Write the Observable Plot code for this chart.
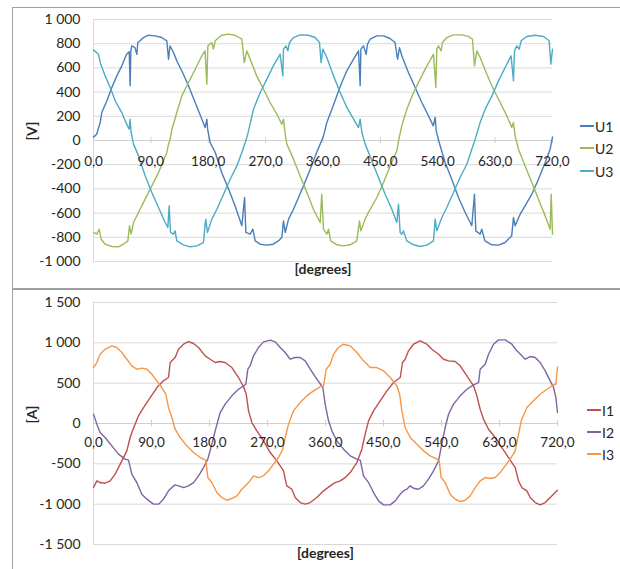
<!DOCTYPE html>
<html>
<head>
<meta charset="utf-8">
<script src="https://cdn.jsdelivr.net/npm/d3@7"></script>
<script src="https://cdn.jsdelivr.net/npm/@observablehq/plot@0.6"></script>
<style>
  body { margin: 0; background: #fff; width: 620px; height: 569px; overflow: hidden; position: relative; font-family: Lato, "Open Sans", sans-serif; color: #262626; }
  .panel { position: absolute; border: 1px solid #9f9f9f; border-right: none; box-sizing: border-box; }
  .plotwrap { position: absolute; left: 0; }
  .leg { position: absolute; font-size: 14px; display: flex; align-items: center; }
  .leg span.sw { display: inline-block; width: 14px; height: 2px; margin-right: 1px; }
</style>
</head>
<body>
<div class="panel" style="left:12px; top:7px; width:620px; height:282px;"></div>
<div class="panel" style="left:12px; top:289px; width:620px; height:300px; border-bottom:none;"></div>
<div id="top" class="plotwrap" style="top:0px;"></div>
<div id="bottom" class="plotwrap" style="top:289px;"></div>
<div id="legends"></div>
<script>
// ---- data (degrees, value) ----
const U1 = [[0,28],[5,52],[10.5,150],[13,231],[21,328],[28.8,438],[36.6,534],[44.4,617],[52,713],[56,733],[57.5,452],[58.6,741],[60,782],[65,768],[68,713],[69.5,810],[73,824],[78.4,851],[86,870],[96.7,865],[107,851],[115,824],[117.7,672],[120,782],[125.5,727],[130.7,658],[141,548],[149,452],[159.5,314],[170,176],[175,107],[177.8,176],[179,93],[183,-17],[191,-99],[201,-265],[212,-402],[222,-540],[232.7,-705],[237,-471],[239,-760],[245.8,-774],[250,-733],[253.6,-830],[261.5,-857],[272,-865],[282,-857],[290,-830],[295.4,-802],[298,-664],[300.7,-760],[306,-650],[313.7,-568],[321.6,-471],[329.4,-375],[340,-237],[350,-99],[358,0],[360.8,38],[366,149],[374,259],[381.7,369],[389.5,479],[397.4,576],[407.9,672],[415.7,741],[418.3,452],[419.4,755],[423.5,782],[427.7,713],[429.8,796],[434,837],[444.5,865],[455,865],[465,843],[473,810],[477,672],[480,768],[483.6,700],[494,562],[504.5,438],[515,314],[525.5,204],[533,121],[536,190],[537.5,80],[543.8,-44],[551.6,-182],[562,-320],[572.5,-471],[583,-595],[593.4,-705],[597.6,-444],[599.7,-747],[606.5,-774],[609,-733],[614,-830],[624.8,-862],[635.3,-865],[645.7,-843],[656,-788],[658.8,-636],[661.4,-705],[669.3,-609],[677,-540],[687.6,-444],[698,-320],[708.5,-182],[716.3,-72],[720,30]];
const U2 = [[0,-760],[5.2,-774],[8.9,-733],[12,-816],[18.3,-857],[28.8,-876],[39.2,-879],[47,-857],[53.9,-830],[56.5,-705],[59,-774],[62.8,-678],[70.6,-595],[81,-485],[91.5,-375],[102,-265],[109.8,-168],[115,-99],[117.7,-30],[120.3,11],[123,93],[130.7,231],[138.6,369],[149,479],[159.5,589],[170,700],[175,741],[177.8,465],[179.4,782],[185.6,810],[188,755],[190.9,824],[201,870],[212,879],[222,870],[232.7,837],[236.5,644],[240.5,741],[245.8,672],[256,534],[266.7,424],[277,314],[287.6,217],[295.4,135],[298,176],[300.7,52],[303.3,-30],[313.7,-154],[324,-292],[334.7,-430],[345,-568],[355.6,-678],[358,-444],[360.8,-733],[366,-774],[368.6,-733],[372,-830],[381.7,-862],[392,-871],[402.6,-862],[413,-830],[417.3,-664],[419.4,-747],[426,-650],[434,-568],[444.5,-471],[455,-347],[465.4,-210],[475.8,-85],[479,10],[483.6,121],[491.5,259],[502,397],[512.4,507],[523,617],[533.3,713],[537,438],[538.5,755],[541,782],[545.3,741],[547.4,810],[554.2,851],[564.7,873],[577.8,873],[588.2,860],[594.5,837],[597.6,617],[601.3,741],[606.5,686],[617,548],[627.4,424],[638,314],[648.3,204],[656.2,107],[658.8,149],[661.4,38],[666.6,-72],[677,-210],[687.6,-347],[698,-485],[708.5,-623],[716.3,-733],[718,-444],[720,-774]];
const U3 = [[0,749],[7.8,713],[10.5,645],[18.3,534],[26.2,438],[34,328],[44.4,231],[52,135],[56,93],[57.5,176],[59,66],[62.8,-30],[70.6,-127],[81,-292],[91.5,-430],[102,-554],[112.4,-678],[116.6,-719],[118.7,-540],[120.8,-760],[125.5,-774],[128,-747],[130.7,-830],[141,-862],[151.6,-879],[162,-871],[172.5,-843],[176,-650],[178.8,-760],[185.6,-650],[193.5,-568],[204,-444],[214.4,-320],[224.9,-210],[232.7,-99],[238,-17],[242,52],[251,259],[261.5,397],[272,507],[282,617],[292.8,713],[297,534],[298,755],[302,782],[304.8,741],[307.5,810],[313.7,851],[324,873],[337,870],[347.7,851],[354.5,810],[357,644],[359.8,755],[366,686],[376.5,534],[387,397],[397.4,273],[408,176],[415.7,107],[418.3,176],[421,66],[426.2,-30],[436.6,-168],[447,-306],[457.5,-444],[468,-568],[475.8,-678],[478.4,-526],[481,-760],[483.6,-774],[486.3,-747],[491.5,-830],[502,-862],[512.4,-876],[523,-865],[533.3,-830],[536,-650],[538.5,-747],[546.4,-636],[554.2,-554],[564.7,-430],[575,-306],[585.6,-196],[593.4,-72],[598.7,11],[606.5,149],[614.4,259],[625,369],[635.3,493],[645.7,603],[655,700],[658.8,493],[660.4,741],[664,782],[667.7,755],[670.8,824],[679.7,860],[692.8,870],[705.9,860],[714.7,824],[717.4,631],[720,755]];
const I1 = [[0,-794],[5.2,-711],[10.3,-732],[18,-740],[25.9,-711],[33.6,-628],[44,-463],[51.7,-339],[56.9,-174],[60.5,-91],[69.8,95],[77.6,198],[88,322],[98.3,446],[108.6,529],[116.4,570],[119,756],[126.7,818],[131.9,921],[139.7,983],[147.4,1016],[155.2,992],[163,942],[173.3,839],[181,797],[188.8,756],[196.6,768],[204.3,756],[214.7,694],[225,570],[232.8,456],[237,363],[240.6,157],[245.7,12],[253.5,-91],[263.8,-215],[274.2,-360],[284.5,-463],[294.9,-587],[297.5,-690],[300,-773],[307.8,-815],[313,-918],[320.7,-980],[328.5,-1000],[336.3,-980],[346.6,-918],[357,-835],[367.3,-773],[375,-732],[382.8,-711],[390.6,-670],[398.3,-608],[408.7,-484],[416.4,-318],[421.6,-132],[426.8,33],[434.5,157],[444.9,281],[455.2,405],[465.6,508],[476,570],[479.5,756],[483.6,797],[488.8,901],[496.6,983],[507,1025],[517.3,983],[525,921],[535.4,859],[543.1,797],[550.9,777],[561.2,768],[569,715],[579.4,591],[589.7,467],[594.9,343],[600,177],[605.2,54],[613,-71],[623.3,-174],[633.7,-298],[644,-422],[654.4,-546],[659.5,-711],[664.7,-794],[672.5,-835],[677.6,-918],[685.4,-980],[693.2,-1009],[700.9,-980],[708.7,-918],[716.4,-856],[720,-827]];
const I2 = [[0,115],[5.2,-8],[10.3,-112],[18,-174],[28.5,-277],[38.8,-380],[49.1,-442],[54.3,-455],[59.5,-628],[67.2,-732],[75,-876],[82.8,-938],[93.1,-1000],[100.9,-1000],[108.6,-938],[116.4,-835],[121.6,-794],[126.7,-761],[131.9,-773],[139.7,-794],[147.4,-773],[155.2,-732],[163,-649],[170.7,-546],[177.4,-442],[183.6,-257],[188.8,-91],[196.6,136],[204.3,240],[214.7,343],[225,425],[232.8,467],[236.4,487],[239.5,673],[243.1,715],[248.3,839],[256,942],[263.8,1012],[274.2,1033],[282,1012],[289.7,942],[297.5,880],[305.2,797],[313,818],[320.7,818],[328.5,777],[336.3,673],[346.6,549],[355.9,446],[359.5,240],[364.7,33],[369.9,-91],[377.6,-215],[388,-318],[398.3,-401],[408.7,-442],[413.9,-455],[419,-649],[426.8,-732],[434.5,-856],[442.3,-959],[450,-1009],[460.4,-1009],[468.2,-959],[476,-876],[481,-835],[486.2,-815],[491.4,-773],[496.6,-802],[504.3,-815],[512,-773],[519.9,-690],[527.6,-587],[535.4,-463],[540.5,-257],[545.7,-50],[550.9,115],[558.7,240],[569,343],[579.4,425],[589.7,479],[597.5,508],[600,673],[607.8,735],[613,859],[620.7,983],[628.5,1037],[638.8,1037],[649.2,983],[657,901],[664.7,839],[669.9,797],[677.6,830],[685.4,818],[693.2,756],[700.9,653],[708.7,529],[713.9,446],[717.5,322],[720,136]];
const I3 = [[0,694],[5.2,756],[10.3,859],[18,921],[28.5,963],[36.2,942],[44,880],[51.7,797],[59.5,715],[67.2,673],[75,686],[82.8,673],[90.5,611],[98.3,529],[106,446],[112.3,363],[116.4,198],[121.6,74],[126.7,-71],[134.5,-174],[144.8,-277],[155.2,-360],[165.5,-422],[174.3,-455],[177.4,-670],[183.6,-732],[191.4,-856],[199.2,-918],[206.9,-951],[214.7,-930],[222.4,-897],[230.2,-815],[240.6,-732],[248.3,-649],[256,-670],[263.8,-649],[271.6,-587],[279.4,-504],[287.1,-422],[293.8,-318],[297.5,-174],[302.6,-8],[310.4,157],[320.7,260],[331.1,343],[341.4,405],[351.8,454],[357,467],[361.1,673],[367.3,735],[372.5,859],[380.2,942],[388,983],[398.3,963],[408.7,880],[419,777],[429.4,694],[439.7,694],[450,653],[460.4,570],[470.8,467],[475,363],[478.5,157],[483.6,-50],[491.4,-174],[501.8,-257],[512.1,-339],[522.4,-401],[532.8,-442],[536.4,-463],[539.5,-670],[545.7,-732],[553.5,-876],[561.2,-938],[569,-967],[576.8,-951],[584.5,-897],[592.3,-794],[600,-711],[607.8,-670],[615.6,-682],[623.3,-670],[631.1,-608],[638.8,-525],[646.6,-442],[654.4,-339],[658.5,-174],[663.7,33],[672.5,198],[682.8,281],[693.2,363],[703.5,425],[713.9,479],[717.5,487],[720,700]];

const xTicks = [0, 90, 180, 270, 360, 450, 540, 630, 720];
const xTickLabels = ["0,0", "90,0", "180,0", "270,0", "360,0", "450,0", "540,0", "630,0", "720,0"];
const vTicks = [-1000, -800, -600, -400, -200, 0, 200, 400, 600, 800, 1000];
const vTickLabels = ["-1 000", "-800", "-600", "-400", "-200", "0", "200", "400", "600", "800", "1 000"];
const aTicks = [-1500, -1000, -500, 0, 500, 1000, 1500];
const aTickLabels = ["-1 500", "-1 000", "-500", "0", "500", "1 000", "1 500"];
const vSeries = ["U1", "U2", "U3"];
const vColors = ["#4a7ebb", "#9bbb59", "#4bacc6"];
const aSeries = ["I1", "I2", "I3"];
const aColors = ["#c0504d", "#8064a2", "#f79646"];

const FONT = "Lato, 'Open Sans', sans-serif";
const TXT = "#262626";
const GRID = "#d9d9d9";

function rows(names, arrays) {
  return names.flatMap((n, i) => arrays[i].map(([deg, val]) => ({deg, val, series: n})));
}

function chart({data, names, colors, ticks, tickLabels, yDomain, height, mt, mb, mr, unit, tickHalf, xlabDy, titleDy}) {
  return Plot.plot({
    width: 620, height,
    marginLeft: 93, marginRight: mr, marginTop: mt, marginBottom: mb,
    style: {fontFamily: FONT, fontSize: "14px", color: TXT, background: "transparent", overflow: "visible"},
    x: {domain: [0, 720], axis: null},
    y: {domain: yDomain, axis: null},
    color: {domain: names, range: colors},
    marks: [
      Plot.gridY(ticks, {stroke: GRID, strokeOpacity: 1}),
      Plot.ruleX([0], {stroke: GRID}),
      Plot.ruleY([0], {stroke: "#cfcfcf"}),
      Plot.ruleX(xTicks, {x: d => d, y1: -tickHalf, y2: tickHalf, stroke: "#cfcfcf"}),
      Plot.axisY(ticks, {label: null, tickSize: 0, tickPadding: 13, tickFormat: d => tickLabels[ticks.indexOf(d)], fontSize: 14, fill: TXT}),
      Plot.line(data, {x: "deg", y: "val", z: "series", stroke: "series", strokeWidth: 1.4, strokeLinejoin: "round"}),
      Plot.text(xTicks, {x: d => d, y: 0, text: (d, i) => xTickLabels[i], dy: xlabDy, fontSize: 13.5, fill: TXT}),
      Plot.text([unit], {frameAnchor: "left", dx: -61, rotate: -90, fontWeight: "bold", fontSize: 14, fill: TXT}),
      Plot.text(["[degrees]"], {frameAnchor: "bottom", dy: titleDy, fontWeight: "bold", fontSize: 14, fill: TXT})
    ]
  });
}

document.getElementById("top").append(chart({
  data: rows(vSeries, [U1, U2, U3]), names: vSeries, colors: vColors,
  ticks: vTicks, tickLabels: vTickLabels, yDomain: [-1000, 1000],
  height: 288, mt: 19, mb: 27, mr: 68, unit: "[V]", tickHalf: 25, xlabDy: 21, titleDy: 12
}));
document.getElementById("bottom").append(chart({
  data: rows(aSeries, [I1, I2, I3]), names: aSeries, colors: aColors,
  ticks: aTicks, tickLabels: aTickLabels, yDomain: [-1500, 1500],
  height: 280, mt: 13, mb: 25, mr: 63, unit: "[A]", tickHalf: 40, xlabDy: 19, titleDy: 13
}));

// legends
const legends = document.getElementById("legends");
function legend(names, colors, left, tops) {
  names.forEach((n, i) => {
    const d = document.createElement("div");
    d.className = "leg";
    d.style.left = left + "px";
    d.style.top = (tops[i] - 9) + "px";
    d.style.height = "18px";
    d.innerHTML = `<span class="sw" style="background:${colors[i]}"></span><span>${n}</span>`;
    legends.append(d);
  });
}
legend(vSeries, vColors, 580, [126, 148, 171]);
legend(aSeries, aColors, 587, [410, 432, 454]);
</script>
</body>
</html>
